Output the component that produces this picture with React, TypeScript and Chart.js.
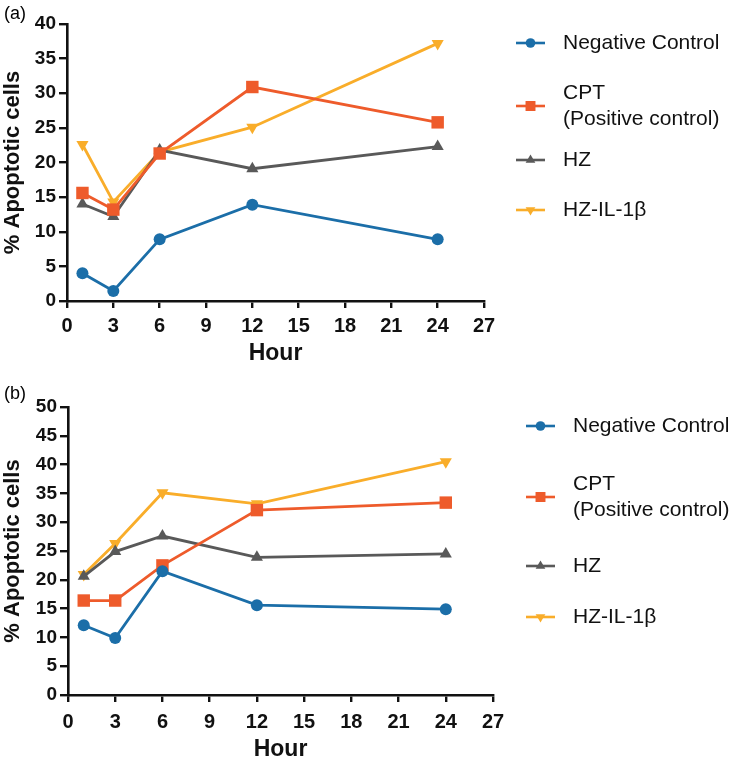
import React, { useEffect, useRef } from "react";
import { Chart, registerables } from "chart.js";

Chart.register(...registerables);

const hours = [1, 3, 6, 12, 24];
const seriesNames = ["Negative Control", "CPT|(Positive control)", "HZ", "HZ-IL-1β"];
const seriesColors = ["#1b6ea8", "#ee5b2b", "#595959", "#f9ad2a"];
const seriesStyles = ["circle", "rect", "triangle", "triangle"];
const seriesRotation = [0, 0, 0, 180];
const seriesRadius = [6, 8.8, 7, 7];

const negA = [4.0, 1.45, 8.9, 13.9, 8.9];
const cptA = [15.6, 13.2, 21.3, 30.9, 25.8];
const hzA = [14.0, 12.2, 21.8, 19.1, 22.3];
const hzilA = [22.6, 14.3, 21.5, 25.1, 37.2];

const negB = [12.1, 9.9, 21.5, 15.6, 14.9];
const cptB = [16.4, 16.4, 22.5, 32.1, 33.4];
const hzB = [20.6, 24.9, 27.6, 23.9, 24.5];
const hzilB = [20.9, 26.3, 35.1, 33.2, 40.5];

const xTicks = [0, 3, 6, 9, 12, 15, 18, 21, 24, 27];

type PanelCfg = {
  label: string;
  height: number;
  series: number[][];
  yMax: number;
  top: number;
  right: number;
  yWidth: number;
  xHeight: number;
  hourPad: number;
  xTickPad: number;
  yTickSize: number;
  legendX: number;
  legendRows: number[];
};

const FONT = "'Liberation Sans', Arial, Helvetica, sans-serif";

function drawMarker(ctx: CanvasRenderingContext2D, style: string, rot: number, x: number, y: number, r: number) {
  ctx.beginPath();
  if (style === "circle") {
    ctx.arc(x, y, r, 0, Math.PI * 2);
  } else if (style === "rect") {
    const s = r * Math.SQRT1_2;
    ctx.rect(x - s, y - s, 2 * s, 2 * s);
  } else {
    const base = rot === 180 ? Math.PI / 2 : -Math.PI / 2;
    for (let i = 0; i < 3; i++) {
      const a = base + (i * 2 * Math.PI) / 3;
      const px = x + r * Math.cos(a);
      const py = y + r * Math.sin(a);
      if (i === 0) ctx.moveTo(px, py);
      else ctx.lineTo(px, py);
    }
    ctx.closePath();
  }
  ctx.fill();
}

function Panel({ cfg }: { cfg: PanelCfg }) {
  const ref = useRef<HTMLCanvasElement | null>(null);
  useEffect(() => {
    if (!ref.current) return;
    const legendPlugin = {
      id: "customLegend",
      afterDraw(chart: any) {
        const ctx = chart.ctx as CanvasRenderingContext2D;
        ctx.save();
        ctx.fillStyle = "#000";
        ctx.font = `18px ${FONT}`;
        ctx.textBaseline = "middle";
        ctx.textAlign = "left";
        ctx.fillText(cfg.label, 4, 14);
        ctx.font = `21px ${FONT}`;
        seriesNames.forEach((name, i) => {
          const lines = name.split("|");
          const rowY = cfg.legendRows[i];
          const lh = 26;
          const midY = rowY + ((lines.length - 1) * lh) / 2;
          const x0 = cfg.legendX;
          ctx.strokeStyle = seriesColors[i];
          ctx.fillStyle = seriesColors[i];
          ctx.lineWidth = 2.6;
          ctx.beginPath();
          ctx.moveTo(x0, midY);
          ctx.lineTo(x0 + 29, midY);
          ctx.stroke();
          drawMarker(ctx, seriesStyles[i], seriesRotation[i], x0 + 14.5, midY, seriesRadius[i] * 0.8);
          ctx.fillStyle = "#111";
          lines.forEach((t, j) => {
            ctx.fillText(t, x0 + 47, rowY + j * lh);
          });
        });
        ctx.restore();
      },
    };
    const order = [0, 1, 2, 3];
    const chart = new Chart(ref.current, {
      type: "line",
      data: {
        datasets: cfg.series.map((vals, i) => ({
          label: seriesNames[i].replace("|", " "),
          data: hours.map((h, k) => ({ x: h, y: vals[k] })),
          borderColor: seriesColors[i],
          backgroundColor: seriesColors[i],
          borderWidth: 2.8,
          pointStyle: seriesStyles[i] as any,
          rotation: seriesRotation[i],
          pointRadius: seriesRadius[i],
          pointBorderWidth: 0,
          pointBackgroundColor: seriesColors[i],
          tension: 0,
          order: order[i],
        })),
      },
      options: {
        animation: false,
        responsive: false,
        events: [],
        layout: { padding: { left: 0, top: cfg.top, right: cfg.right, bottom: 0 } },
        plugins: { legend: { display: false }, tooltip: { enabled: false } },
        scales: {
          x: {
            type: "linear",
            min: 0,
            max: 27,
            afterBuildTicks: (s: any) => {
              s.ticks = xTicks.map((v) => ({ value: v }));
            },
            afterFit: (s: any) => {
              s.height = cfg.xHeight;
            },
            ticks: {
              color: "#111",
              font: { family: FONT, size: 20, weight: "bold" },
              padding: cfg.xTickPad,
              maxRotation: 0,
              autoSkip: false,
            },
            grid: { drawOnChartArea: false, drawTicks: true, tickLength: 7, color: "#111", lineWidth: 2.4 },
            border: { color: "#111", width: 2.6 },
            title: {
              display: true,
              text: "Hour",
              color: "#111",
              font: { family: FONT, size: 23, weight: "bold", lineHeight: 1 },
              padding: { top: 0, bottom: cfg.hourPad },
            },
          },
          y: {
            type: "linear",
            min: 0,
            max: cfg.yMax,
            ticks: {
              stepSize: 5,
              color: "#111",
              font: { family: FONT, size: cfg.yTickSize, weight: "bold" },
              padding: 3,
            },
            afterFit: (s: any) => {
              s.width = cfg.yWidth;
            },
            grid: { drawOnChartArea: false, drawTicks: true, tickLength: 8, color: "#111", lineWidth: 2.4 },
            border: { color: "#111", width: 2.6 },
            title: {
              display: true,
              text: "% Apoptotic cells",
              color: "#111",
              font: { family: FONT, size: 22, weight: "bold", lineHeight: 1.2 },
              padding: { top: 0, bottom: 0 },
            },
          },
        },
      },
      plugins: [legendPlugin],
    } as any);
    return () => chart.destroy();
  }, [cfg]);
  return <canvas ref={ref} width={748} height={cfg.height} style={{ display: "block", width: 748, height: cfg.height }} />;
}

const panelA: PanelCfg = {
  label: "(a)",
  height: 380,
  series: [negA, cptA, hzA, hzilA],
  yMax: 40,
  top: 24,
  right: 264,
  yWidth: 67,
  xHeight: 79,
  hourPad: 15,
  xTickPad: 6,
  yTickSize: 19,
  legendX: 516,
  legendRows: [43, 93, 160, 210],
};

const panelB: PanelCfg = {
  label: "(b)",
  height: 383,
  series: [negB, cptB, hzB, hzilB],
  yMax: 50,
  top: 27,
  right: 255,
  yWidth: 68,
  xHeight: 68,
  hourPad: 2,
  xTickPad: 8,
  yTickSize: 19,
  legendX: 526,
  legendRows: [46, 104, 186, 237],
};

export default function App() {
  return (
    <div style={{ position: "absolute", left: 0, top: 0, width: 748, height: 763, background: "#fff" }}>
      <Panel cfg={panelA} />
      <Panel cfg={panelB} />
    </div>
  );
}
